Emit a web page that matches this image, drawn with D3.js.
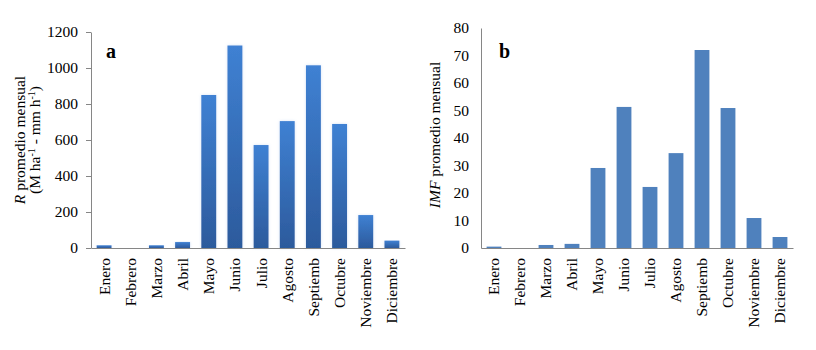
<!DOCTYPE html>
<html>
<head>
<meta charset="utf-8">
<script src="https://cdn.jsdelivr.net/npm/d3@7"></script>
<style>
  html, body { margin: 0; padding: 0; background: #fff; }
  svg text { font-family: "Liberation Serif", "Times New Roman", serif; fill: #000; }
</style>
</head>
<body>
<svg id="chart" width="816" height="350"></svg>
<script>
const months = ["Enero", "Febrero", "Marzo", "Abril", "Mayo", "Junio", "Julio",
                "Agosto", "Septiemb", "Octubre", "Noviembre", "Diciembre"];
// Monthly mean erosivity R (MJ ha-1 mm h-1)
const rValues = [15, 0, 15, 33, 850, 1125, 572, 705, 1015, 689, 183, 41];
// Monthly mean Fournier index IMF
const imfValues = [0.5, 0, 1.1, 1.5, 29.1, 51.3, 22.2, 34.5, 72, 50.9, 10.9, 4.0];
const rTicks = [0, 200, 400, 600, 800, 1000, 1200];
const imfTicks = [0, 10, 20, 30, 40, 50, 60, 70, 80];

const svg = d3.select("#chart");
const axisColor = "#868686";
const fontSize = "15.5px";

const defs = svg.append("defs");
const grad = defs.append("linearGradient")
  .attr("id", "barGrad").attr("x1", 0).attr("y1", 0).attr("x2", 0).attr("y2", 1);
grad.append("stop").attr("offset", "0%").attr("stop-color", "#3f81d3");
grad.append("stop").attr("offset", "100%").attr("stop-color", "#2c5a9c");
const glow = defs.append("filter").attr("id", "glow")
  .attr("x", "-30%").attr("y", "-5%").attr("width", "160%").attr("height", "110%");
glow.append("feGaussianBlur").attr("in", "SourceAlpha").attr("stdDeviation", 1.6).attr("result", "b");
glow.append("feFlood").attr("flood-color", "#9fc0ea").attr("flood-opacity", 0.45);
glow.append("feComposite").attr("in2", "b").attr("operator", "in").attr("result", "s");
const mg = glow.append("feMerge");
mg.append("feMergeNode").attr("in", "s");
mg.append("feMergeNode").attr("in", "SourceGraphic");

function panel(opts) {
  const g = svg.append("g");
  const x = d3.scaleBand().domain(months).range([opts.x0, opts.x1])
    .paddingInner(0.43).paddingOuter(0.215);
  const y = d3.scaleLinear().domain([0, opts.max]).range([248, opts.yTop]);

  // bars
  g.append("g").selectAll("rect").data(opts.values).join("rect")
    .attr("x", (d, i) => x(months[i]))
    .attr("width", x.bandwidth())
    .attr("y", d => y(d))
    .attr("height", d => y(0) - y(d))
    .attr("fill", opts.fill)
    .attr("filter", opts.filter || null);

  // y axis
  const ya = d3.axisLeft(y).tickValues(opts.ticks).tickFormat(d3.format("d"))
    .tickSize(opts.tickSize).tickPadding(opts.tickPadding).tickSizeOuter(0);
  const yg = g.append("g").attr("transform", `translate(${opts.x0},0)`).call(ya);
  yg.attr("font-family", null);
  yg.select(".domain").attr("stroke", axisColor);
  yg.selectAll(".tick line").attr("stroke", axisColor);
  yg.selectAll(".tick text").style("font-size", fontSize).attr("fill", "#000");

  // x axis
  const xa = d3.axisBottom(x).tickSize(0).tickSizeOuter(0);
  const xg = g.append("g").attr("transform", `translate(0,248)`).call(xa);
  xg.attr("font-family", null);
  xg.select(".domain").attr("stroke", axisColor);
  xg.selectAll(".tick text")
    .style("font-size", fontSize)
    .attr("fill", "#000")
    .attr("text-anchor", "end")
    .attr("transform", "rotate(-90)")
    .attr("x", -10).attr("y", 0).attr("dy", "0.35em");

  // panel letter
  g.append("text").attr("x", opts.letterX).attr("y", 58)
    .style("font-size", "20px").style("font-weight", "bold").text(opts.letter);

  return g;
}

panel({
  x0: 91, x1: 405, max: 1200, yTop: 32, values: rValues, ticks: rTicks,
  fill: "url(#barGrad)", filter: "url(#glow)", tickSize: 5, tickPadding: 8,
  letter: "a", letterX: 106
});
panel({
  x0: 481, x1: 793, max: 80, yTop: 28, values: imfValues, ticks: imfTicks,
  fill: "#4f81bd", tickSize: 0, tickPadding: 12,
  letter: "b", letterX: 499
});

// y-axis titles
const ta = svg.append("text").attr("transform", "translate(25,140) rotate(-90)")
  .attr("text-anchor", "middle").style("font-size", fontSize);
ta.append("tspan").style("font-style", "italic").text("R");
ta.append("tspan").text(" promedio mensual");

const tb = svg.append("text").attr("transform", "translate(40,140) rotate(-90)")
  .attr("text-anchor", "middle").style("font-size", fontSize);
tb.append("tspan").text("(M ha");
tb.append("tspan").attr("dy", -5).style("font-size", "10px").text("-1");
tb.append("tspan").attr("dy", 5).text(" - mm h");
tb.append("tspan").attr("dy", -5).style("font-size", "10px").text("-1");
tb.append("tspan").attr("dy", 5).text(")");

const tc = svg.append("text").attr("transform", "translate(440,135) rotate(-90)")
  .attr("text-anchor", "middle").style("font-size", fontSize);
tc.append("tspan").style("font-style", "italic").text("IMF");
tc.append("tspan").text(" promedio mensual");
</script>
</body>
</html>
